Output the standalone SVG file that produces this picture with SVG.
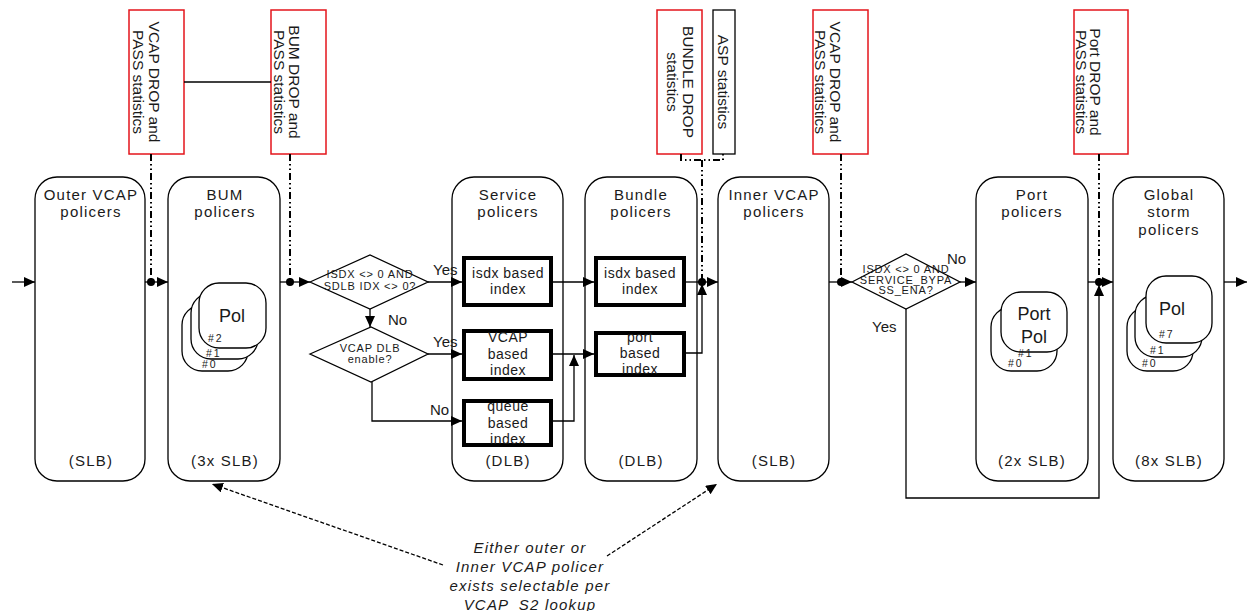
<svg xmlns="http://www.w3.org/2000/svg" width="1248" height="611" viewBox="0 0 1248 611">
<style>
.node{fill:#fff;stroke:#000;stroke-width:1.3}
.inner{fill:#fff;stroke:#000;stroke-width:4}
.pbox{fill:#fff;stroke:#000;stroke-width:1.3}
.stat{fill:#fff;stroke:#e4141b;stroke-width:1.5}
.asp{fill:#fff;stroke:#000;stroke-width:1.3}
.dia{fill:#fff;stroke:#000;stroke-width:1.3}
text{font-family:"Liberation Sans",Arial,sans-serif;fill:#1a1a1a}
.title{font-size:15px;letter-spacing:1.2px;text-anchor:middle}
.ib{font-size:14px;letter-spacing:0.5px;text-anchor:middle}
.dt{font-size:11px;letter-spacing:0.8px;text-anchor:middle}
.lbl{font-size:15px}
.pol{font-size:18px;text-anchor:middle}
.num{font-size:10.5px;letter-spacing:2px}
.stxt{font-size:15.5px;text-anchor:middle}
.ann{font-size:15px;font-style:italic;letter-spacing:1.2px;text-anchor:middle}
.ln{stroke:#000;stroke-width:1.3;fill:none}
.dd{stroke:#000;stroke-width:2;stroke-dasharray:7 3 1.5 3 1.5 3;fill:none}
.dash{stroke:#000;stroke-width:1.3;stroke-dasharray:4 2;fill:none}
.dot{fill:#000}
</style>
<defs>
<marker id="ah" markerUnits="userSpaceOnUse" markerWidth="11" markerHeight="10" refX="11" refY="5" orient="auto">
<path d="M0,0 L11,5 L0,10 z" fill="#000"/>
</marker>
</defs>

<!-- statistics boxes -->
<g id="stat-vcap-outer">
<rect class="stat" x="129" y="10" width="55" height="144"/>
<text class="stxt" transform="translate(149,82) rotate(90)">VCAP DROP and</text>
<text class="stxt" transform="translate(133,82) rotate(90)">PASS statistics</text>
</g>
<g id="stat-bum">
<rect class="stat" x="271" y="10" width="55" height="144"/>
<text class="stxt" transform="translate(289,82) rotate(90)">BUM DROP and</text>
<text class="stxt" transform="translate(274,82) rotate(90)">PASS statistics</text>
</g>
<g id="stat-bundle">
<rect class="stat" x="657" y="10" width="45" height="144"/>
<text class="stxt" transform="translate(683,82) rotate(90)">BUNDLE DROP</text>
<text class="stxt" transform="translate(667,82) rotate(90)">statistics</text>
</g>
<g id="stat-asp">
<rect class="asp" x="713" y="10" width="22" height="144"/>
<text class="stxt" transform="translate(718,82) rotate(90)">ASP statistics</text>
</g>
<g id="stat-vcap-inner">
<rect class="stat" x="813" y="10" width="55" height="144"/>
<text class="stxt" transform="translate(830,82) rotate(90)">VCAP DROP and</text>
<text class="stxt" transform="translate(815,82) rotate(90)">PASS statistics</text>
</g>
<g id="stat-port">
<rect class="stat" x="1074" y="10" width="54" height="144"/>
<text class="stxt" transform="translate(1090,82) rotate(90)">Port DROP and</text>
<text class="stxt" transform="translate(1076,82) rotate(90)">PASS statistics</text>
</g>

<!-- main nodes -->
<g id="outer-vcap">
<rect class="node" x="35" y="177" width="110" height="304" rx="22"/>
<text class="title" x="91" y="200">Outer VCAP</text>
<text class="title" x="91" y="217">policers</text>
<text class="title" x="91" y="466">(SLB)</text>
</g>
<g id="bum">
<rect class="node" x="168" y="177" width="112" height="304" rx="22"/>
<text class="title" x="225" y="200">BUM</text>
<text class="title" x="225" y="217">policers</text>
<text class="title" x="225" y="466">(3x SLB)</text>
<rect class="pbox" x="182" y="305" width="66" height="66" rx="20"/>
<rect class="pbox" x="191" y="293" width="67" height="66" rx="20"/>
<rect class="pbox" x="199" y="283" width="67" height="65" rx="20"/>
<text class="pol" x="232" y="322">Pol</text>
<text class="num" x="208" y="342">#2</text>
<text class="num" x="206" y="357">#1</text>
<text class="num" x="202" y="368">#0</text>
</g>
<g id="decision-isdx">
<polygon class="dia" points="310,282 370,255 428,282 370,309"/>
<text class="dt" x="370" y="278">ISDX &lt;&gt; 0 AND</text>
<text class="dt" x="370" y="290">SDLB IDX &lt;&gt; 0?</text>
</g>
<g id="decision-vcap-dlb">
<polygon class="dia" points="310,354 371,327 428,354 371,382"/>
<text class="dt" x="370" y="352">VCAP DLB</text>
<text class="dt" x="370" y="363">enable?</text>
</g>
<g id="service">
<rect class="node" x="452" y="177" width="111" height="304" rx="22"/>
<text class="title" x="508" y="200">Service</text>
<text class="title" x="508" y="217">policers</text>
<text class="title" x="508" y="466">(DLB)</text>
</g>
<g id="service-isdx">
<rect class="inner" x="464" y="258" width="87" height="47"/>
<text class="ib" x="508" y="278">isdx based</text>
<text class="ib" x="508" y="294">index</text>
</g>
<g id="service-vcap">
<rect class="inner" x="464" y="331" width="87" height="48"/>
<text class="ib" x="508" y="342">VCAP</text>
<text class="ib" x="508" y="359">based</text>
<text class="ib" x="508" y="375">index</text>
</g>
<g id="service-queue">
<rect class="inner" x="464" y="401" width="87" height="44"/>
<text class="ib" x="508" y="411">queue</text>
<text class="ib" x="508" y="428">based</text>
<text class="ib" x="508" y="444">index</text>
</g>
<g id="bundle">
<rect class="node" x="585" y="177" width="112" height="304" rx="22"/>
<text class="title" x="641" y="200">Bundle</text>
<text class="title" x="641" y="217">policers</text>
<text class="title" x="641" y="466">(DLB)</text>
</g>
<g id="bundle-isdx">
<rect class="inner" x="596" y="258" width="88" height="47"/>
<text class="ib" x="640" y="278">isdx based</text>
<text class="ib" x="640" y="294">index</text>
</g>
<g id="bundle-port">
<rect class="inner" x="596" y="333" width="88" height="42"/>
<text class="ib" x="640" y="342">port</text>
<text class="ib" x="640" y="358">based</text>
<text class="ib" x="640" y="374">index</text>
</g>
<g id="inner-vcap">
<rect class="node" x="718" y="177" width="111" height="304" rx="22"/>
<text class="title" x="774" y="200">Inner VCAP</text>
<text class="title" x="774" y="217">policers</text>
<text class="title" x="774" y="466">(SLB)</text>
</g>
<g id="decision-bypass">
<polygon class="dia" points="852,282 906,254 960,282 906,309"/>
<text class="dt" x="906" y="273">ISDX &lt;&gt; 0 AND</text>
<text class="dt" x="906" y="284">SERVICE_BYPA</text>
<text class="dt" x="906" y="294">SS_ENA?</text>
</g>
<g id="port">
<rect class="node" x="976" y="177" width="112" height="304" rx="22"/>
<text class="title" x="1032" y="200">Port</text>
<text class="title" x="1032" y="217">policers</text>
<text class="title" x="1032" y="466">(2x SLB)</text>
<rect class="pbox" x="991" y="307" width="66" height="64" rx="20"/>
<rect class="pbox" x="1001" y="292" width="66" height="60" rx="20"/>
<text class="pol" x="1034" y="320">Port</text>
<text class="pol" x="1034" y="343">Pol</text>
<text class="num" x="1018" y="357">#1</text>
<text class="num" x="1008" y="367">#0</text>
</g>
<g id="global-storm">
<rect class="node" x="1113" y="177" width="111" height="304" rx="22"/>
<text class="title" x="1169" y="200">Global</text>
<text class="title" x="1169" y="217">storm</text>
<text class="title" x="1169" y="235">policers</text>
<text class="title" x="1169" y="466">(8x SLB)</text>
<rect class="pbox" x="1127" y="307" width="66" height="64" rx="20"/>
<rect class="pbox" x="1135" y="295" width="67" height="62" rx="20"/>
<rect class="pbox" x="1146" y="276" width="66" height="67" rx="20"/>
<text class="pol" x="1172" y="315">Pol</text>
<text class="num" x="1159" y="338">#7</text>
<text class="num" x="1150" y="354">#1</text>
<text class="num" x="1142" y="367">#0</text>
</g>
<g id="annotation">
<text class="ann" x="530" y="553">Either outer or</text>
<text class="ann" x="530" y="572">Inner VCAP policer</text>
<text class="ann" x="530" y="591">exists selectable per</text>
<text class="ann" x="530" y="610">VCAP_S2 lookup</text>
</g>

<!-- connectors -->
<g id="connectors">
<line class="ln" x1="184" y1="82" x2="271" y2="82"/>
<line class="dd" x1="151" y1="154" x2="151" y2="282"/>
<line class="dd" x1="290" y1="154" x2="290" y2="282"/>
<polyline class="dd" points="681,154 681,160 723,160 723,154"/>
<line class="dd" x1="702" y1="160" x2="702" y2="282"/>
<line class="dd" x1="841" y1="154" x2="841" y2="282"/>
<line class="dd" x1="1099" y1="154" x2="1099" y2="282"/>

<line class="ln" x1="12" y1="282" x2="35" y2="282" marker-end="url(#ah)"/>
<line class="ln" x1="145" y1="282" x2="168" y2="282" marker-end="url(#ah)"/>
<circle class="dot" cx="151" cy="282" r="4"/>
<line class="ln" x1="280" y1="282" x2="310" y2="282" marker-end="url(#ah)"/>
<circle class="dot" cx="290" cy="282" r="4"/>
<line class="ln" x1="428" y1="282" x2="462" y2="282" marker-end="url(#ah)"/>
<line class="ln" x1="370" y1="309" x2="370" y2="327" marker-end="url(#ah)"/>
<line class="ln" x1="428" y1="354" x2="462" y2="354" marker-end="url(#ah)"/>
<polyline class="ln" points="372,382 372,421 462,421" marker-end="url(#ah)"/>
<line class="ln" x1="553" y1="282" x2="594" y2="282" marker-end="url(#ah)"/>
<line class="ln" x1="553" y1="354" x2="594" y2="354" marker-end="url(#ah)"/>
<polyline class="ln" points="553,421 574,421 574,355" marker-end="url(#ah)"/>
<line class="ln" x1="686" y1="282" x2="718" y2="282" marker-end="url(#ah)"/>
<polyline class="ln" points="686,353 702,353 702,284" marker-end="url(#ah)"/>
<circle class="dot" cx="702" cy="282" r="4"/>
<line class="ln" x1="829" y1="282" x2="852" y2="282" marker-end="url(#ah)"/>
<circle class="dot" cx="841" cy="282" r="4"/>
<line class="ln" x1="960" y1="282" x2="976" y2="282" marker-end="url(#ah)"/>
<polyline class="ln" points="906,309 906,498 1099,498 1099,285" marker-end="url(#ah)"/>
<line class="ln" x1="1088" y1="282" x2="1113" y2="282" marker-end="url(#ah)"/>
<circle class="dot" cx="1099" cy="282" r="4"/>
<line class="ln" x1="1224" y1="282" x2="1247" y2="282" marker-end="url(#ah)"/>
<line class="dash" x1="443" y1="565" x2="212" y2="484" marker-end="url(#ah)"/>
<line class="dash" x1="607" y1="556" x2="717" y2="484" marker-end="url(#ah)"/>

<text class="lbl" x="433" y="275">Yes</text>
<text class="lbl" x="388" y="325">No</text>
<text class="lbl" x="433" y="347">Yes</text>
<text class="lbl" x="430" y="415">No</text>
<text class="lbl" x="947" y="264">No</text>
<text class="lbl" x="872" y="332">Yes</text>
</g>
</svg>
